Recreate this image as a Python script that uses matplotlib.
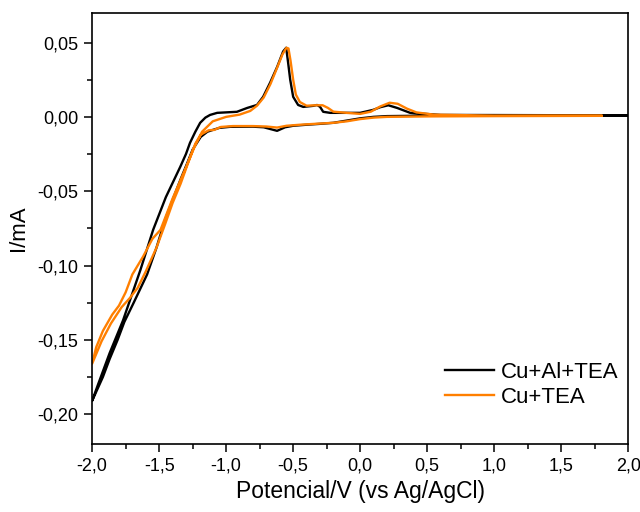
import matplotlib
matplotlib.use("Agg")
import matplotlib.pyplot as plt
from matplotlib.ticker import MultipleLocator, FuncFormatter

plt.rcParams['font.family'] = ['Liberation Sans', 'DejaVu Sans']

# --- data ---
# Cu+Al+TEA : cathodic sweep 2.0 -> -2.0, then anodic sweep -2.0 -> 2.0
cu_al_lower_v = [2.0, 1.0, 0.5, 0.2, 0.1, 0.0, -0.1, -0.2, -0.3, -0.4, -0.5, -0.56,
                 -0.62, -0.67, -0.72, -0.8, -0.97, -1.05, -1.10, -1.14, -1.19, -1.25,
                 -1.29, -1.34, -1.40, -1.455, -1.52, -1.59, -1.69, -1.76, -1.81, -1.87,
                 -1.92, -2.0]
cu_al_lower_i = [0.0010, 0.0009, 0.0008, 0.0005, 0.0, -0.0010, -0.0025, -0.0040, -0.0047,
                 -0.0053, -0.0060, -0.0070, -0.0094, -0.0082, -0.0070, -0.0066, -0.0067,
                 -0.0074, -0.0088, -0.0100, -0.0135, -0.0220, -0.0310, -0.0420, -0.0560,
                 -0.0690, -0.0880, -0.1060, -0.1250, -0.1380, -0.1500, -0.1630, -0.1750,
                 -0.1910]
cu_al_upper_v = [-2.0, -1.96, -1.87, -1.77, -1.64, -1.545, -1.45, -1.343, -1.30, -1.27,
                 -1.23, -1.194, -1.155, -1.12, -1.067, -0.92, -0.843, -0.77, -0.724,
                 -0.672, -0.619, -0.575, -0.552, -0.537, -0.522, -0.50, -0.463, -0.425,
                 -0.351, -0.321, -0.299, -0.276, -0.224, 0.0, 0.097, 0.15, 0.21, 0.276,
                 0.373, 0.6, 2.0]
cu_al_upper_i = [-0.1910, -0.1810, -0.1590, -0.1370, -0.1030, -0.0760, -0.0540, -0.0337,
                 -0.0250, -0.0175, -0.0100, -0.0040, -0.0005, 0.0013, 0.0027, 0.0034,
                 0.0060, 0.0080, 0.0135, 0.0230, 0.0337, 0.0440, 0.0465, 0.0360, 0.0250,
                 0.0135, 0.0080, 0.0067, 0.0074, 0.0080, 0.0067, 0.0034, 0.0027, 0.0027,
                 0.0047, 0.0065, 0.0078, 0.0060, 0.0027, 0.0013, 0.0010]

# Cu+TEA : cathodic sweep 1.8 -> -2.0, then anodic sweep -2.0 -> 1.8
cu_lower_v = [1.8, 1.0, 0.5, 0.2, 0.1, 0.0, -0.1, -0.2, -0.3, -0.45, -0.55, -0.62, -0.70,
              -0.80, -0.95, -1.04, -1.09, -1.13, -1.19, -1.23, -1.28, -1.34, -1.40, -1.455,
              -1.52, -1.60, -1.66, -1.72, -1.78, -1.86, -1.93, -2.0]
cu_lower_i = [0.0007, 0.0005, 0.0003, 0.0, -0.0005, -0.0015, -0.0030, -0.0040, -0.0045,
              -0.0053, -0.0060, -0.0072, -0.0065, -0.0062, -0.0062, -0.0068, -0.0088,
              -0.0090, -0.0120, -0.0180, -0.0300, -0.0450, -0.0580, -0.0720, -0.0880,
              -0.1040, -0.1150, -0.1220, -0.1280, -0.1390, -0.1510, -0.1660]
cu_upper_v = [-2.0, -1.97, -1.92, -1.85, -1.80, -1.75, -1.70, -1.62, -1.55, -1.49, -1.40,
              -1.30, -1.24, -1.18, -1.10, -1.00, -0.90, -0.82, -0.77, -0.72, -0.67, -0.62,
              -0.58, -0.55, -0.535, -0.52, -0.50, -0.48, -0.45, -0.40, -0.33, -0.28, -0.24,
              -0.20, -0.10, 0.0, 0.08, 0.15, 0.22, 0.28, 0.35, 0.42, 0.55, 1.0, 1.8]
cu_upper_i = [-0.1660, -0.1550, -0.1440, -0.1330, -0.1270, -0.1180, -0.1060, -0.0940,
              -0.0820, -0.0760, -0.0550, -0.0340, -0.0210, -0.0100, -0.0030, 0.0, 0.0015,
              0.0040, 0.0075, 0.0130, 0.0220, 0.0330, 0.0420, 0.0465, 0.0460, 0.0380,
              0.0250, 0.0150, 0.0100, 0.0075, 0.0078, 0.0078, 0.0060, 0.0035, 0.0027,
              0.0020, 0.0035, 0.0070, 0.0095, 0.0088, 0.0055, 0.0030, 0.0015, 0.0008,
              0.0007]

labels = ["Cu+Al+TEA", "Cu+TEA"]
colors = ["black", "#ff7f00"]


def comma(x, nd):
    s = f"{x:.{nd}f}".replace(".", ",")
    return s.replace("-0,00", "0,00") if nd == 2 else s.replace("-0,0", "0,0")


fig = plt.figure(figsize=(6.4, 5.12), dpi=100)
ax = fig.add_axes([0.144, 0.133, 0.8375, 0.842])

ax.plot(cu_al_lower_v + cu_al_upper_v, cu_al_lower_i + cu_al_upper_i,
        color=colors[0], lw=1.7, label=labels[0])
ax.plot(cu_lower_v + cu_upper_v, cu_lower_i + cu_upper_i,
        color=colors[1], lw=1.7, label=labels[1])

ax.set_xlim(-2.0, 2.0)
ax.set_ylim(-0.22, 0.07)
ax.xaxis.set_major_locator(MultipleLocator(0.5))
ax.xaxis.set_minor_locator(MultipleLocator(0.25))
ax.yaxis.set_major_locator(MultipleLocator(0.05))
ax.yaxis.set_minor_locator(MultipleLocator(0.025))
ax.xaxis.set_major_formatter(FuncFormatter(lambda x, p: comma(x, 1)))
ax.yaxis.set_major_formatter(FuncFormatter(lambda x, p: comma(x, 2)))
ax.tick_params(which='major', direction='out', length=6, width=1.1, labelsize=13,
               pad=4, top=False, right=False)
ax.tick_params(which='minor', direction='out', length=3.5, width=1.1,
               top=False, right=False)
for s in ax.spines.values():
    s.set_linewidth(1.2)

ax.set_xlabel("Potencial/V (vs Ag/AgCl)", fontsize=16.5, labelpad=4)
ax.set_ylabel("I/mA", fontsize=16, labelpad=6)

ax.legend(loc='center right', bbox_to_anchor=(0.982, 0.137), frameon=False,
          fontsize=16, handlelength=2.2, handletextpad=0.3, labelspacing=0.15,
          borderpad=0, borderaxespad=0)

fig.savefig("out.png", dpi=100)
